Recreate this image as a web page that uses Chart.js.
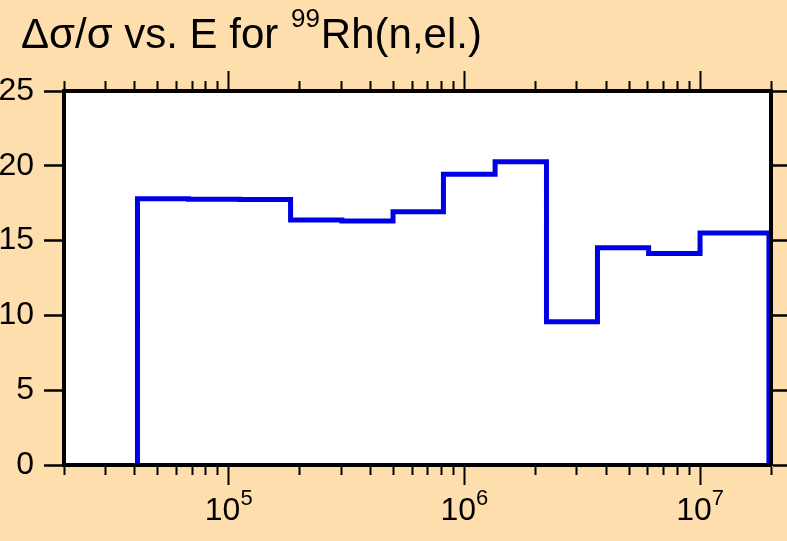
<!DOCTYPE html>
<html>
<head>
<meta charset="utf-8">
<script src="https://cdn.jsdelivr.net/npm/chart.js@4.4.0/dist/chart.umd.min.js"></script>
<style>
  html, body { margin: 0; padding: 0; background: #ffdead; }
  #wrap { width: 787px; height: 541px; }
</style>
</head>
<body>
<div id="wrap"><canvas id="relErr" width="787" height="541"></canvas></div>
<script>
// group boundaries (eV) and relative uncertainty (%) in each group
const energyEdges = [4.1e4, 6.75e4, 1.11e5, 1.83e5, 3.02e5, 4.98e5, 8.15e5, 1.35e6, 2.23e6, 3.67e6, 6.05e6, 1.0e7, 1.96e7];
const relUnc = [17.8, 17.77, 17.75, 16.38, 16.31, 16.93, 19.43, 20.27, 9.57, 14.52, 14.14, 15.5];

const yTicks = [0, 5, 10, 15, 20, 25];
const decadeTicks = [1e5, 1e6, 1e7];
const decadeExps = ["5", "6", "7"];
const titleParts = ["Δσ/σ vs. E for ", "99", "Rh(n,el.)"];

const xMin = 2e4, xMax = 2e7;
const FONT = 'Arial, "Liberation Sans", sans-serif';

// histogram outline from the group edges
const histPoints = [{ x: energyEdges[0], y: 0 }];
relUnc.forEach(function (v, i) {
  histPoints.push({ x: energyEdges[i], y: v });
  histPoints.push({ x: energyEdges[i + 1], y: v });
});
histPoints.push({ x: energyEdges[energyEdges.length - 1], y: 0 });

// 1..9 x 10^n tick marks inside the axis range
const logTicks = [];
for (let e = 4; e <= 7; e++) {
  for (let m = 1; m <= 9; m++) {
    const v = m * Math.pow(10, e);
    if (v >= xMin && v <= xMax) logTicks.push(v);
  }
}

function setLogTicks(scale) {
  scale.ticks = logTicks.map(function (v) {
    return { value: v, major: decadeTicks.includes(v) };
  });
}
function setYTicks(scale) {
  scale.ticks = yTicks.map(function (v) { return { value: v }; });
}

const frameBorder = { color: "#000", width: 4, z: 1 };

// white plot area + title + decade labels
const decorPlugin = {
  id: "decor",
  beforeDraw(chart) {
    const c = chart.ctx, a = chart.chartArea;
    c.save();
    c.fillStyle = "#ffdead";
    c.fillRect(0, 0, chart.width, chart.height);
    c.fillStyle = "#fff";
    c.fillRect(a.left, a.top, a.right - a.left, a.bottom - a.top);
    c.restore();
  },
  afterDraw(chart) {
    const c = chart.ctx;
    c.save();
    c.fillStyle = "#000";
    c.textBaseline = "alphabetic";
    c.textAlign = "left";

    // title with superscript mass number
    let tx = 21;
    c.font = "42px " + FONT;
    c.fillText(titleParts[0], tx, 48);
    tx += c.measureText(titleParts[0]).width;
    c.font = "26px " + FONT;
    c.fillText(titleParts[1], tx + 1, 27);
    tx += c.measureText(titleParts[1]).width + 2;
    c.font = "42px " + FONT;
    c.fillText(titleParts[2], tx, 48);

    // 10^n labels under the bottom axis
    const xs = chart.scales.x;
    decadeTicks.forEach(function (v, i) {
      const px = xs.getPixelForValue(v);
      c.font = "32px " + FONT;
      const w10 = c.measureText("10").width;
      c.font = "22px " + FONT;
      const we = c.measureText(decadeExps[i]).width;
      const x0 = px - (w10 + we) / 2;
      c.font = "32px " + FONT;
      c.fillText("10", x0, 520);
      c.font = "22px " + FONT;
      c.fillText(decadeExps[i], x0 + w10, 505);
    });
    c.restore();
  }
};

const ctx = document.getElementById("relErr");

const config = {
  type: "line",
  data: {
    datasets: [
      {
        data: histPoints,
        borderColor: "rgb(0, 0, 230)",
        backgroundColor: "rgb(0, 0, 230)",
        borderWidth: 5,
        pointRadius: 0,
        fill: false,
        tension: 0,
        xAxisID: "x",
        yAxisID: "y"
      }
    ]
  },
  options: {
    responsive: false,
    animation: false,
    devicePixelRatio: 1,
    layout: { padding: 0 },
    plugins: { legend: { display: false }, tooltip: { enabled: false }, title: { display: false } },
    scales: {
      x: {
        type: "logarithmic",
        position: "bottom",
        min: xMin,
        max: xMax,
        afterBuildTicks: setLogTicks,
        afterFit: function (s) { s.height = 76; },
        ticks: { display: false, autoSkip: false },
        grid: {
          drawOnChartArea: false,
          tickLength: 20,
          tickColor: "#000",
          tickWidth: 2,
          tickBorderDash: function (c) { return c.tick && c.tick.major ? [] : [8, 100]; }
        },
        border: frameBorder
      },
      x2: {
        type: "logarithmic",
        position: "top",
        min: xMin,
        max: xMax,
        afterBuildTicks: setLogTicks,
        afterFit: function (s) { s.height = 91; },
        ticks: { display: false, autoSkip: false },
        grid: {
          drawOnChartArea: false,
          tickLength: 20,
          tickColor: "#000",
          tickWidth: 2,
          tickBorderDash: function (c) { return c.tick && c.tick.major ? [] : [0, 10, 8, 100]; }
        },
        border: frameBorder
      },
      y: {
        position: "left",
        min: 0,
        max: 25,
        afterBuildTicks: setYTicks,
        afterFit: function (s) { s.width = 64; },
        ticks: { color: "#000", font: { family: FONT, size: 32 }, padding: 10, autoSkip: false },
        grid: { drawOnChartArea: false, tickLength: 20, tickColor: "#000", tickWidth: 2.5 },
        border: frameBorder
      },
      y2: {
        position: "right",
        min: 0,
        max: 25,
        afterBuildTicks: setYTicks,
        afterFit: function (s) { s.width = 16; },
        ticks: { display: false },
        grid: { drawOnChartArea: false, tickLength: 20, tickColor: "#000", tickWidth: 2.5 },
        border: frameBorder
      }
    }
  },
  plugins: [decorPlugin]
};

const relErrChart = new Chart(ctx, config);
</script>
</body>
</html>
